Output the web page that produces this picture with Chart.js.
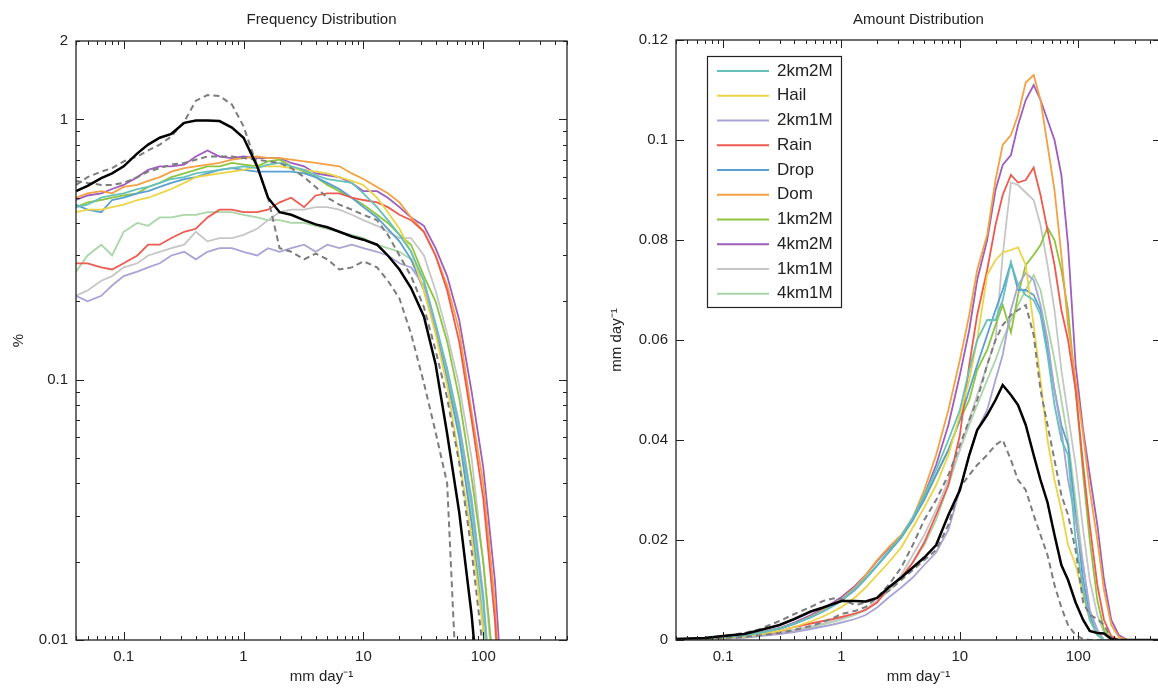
<!DOCTYPE html>
<html>
<head>
<meta charset="utf-8">
<title>Frequency and Amount Distribution</title>
<script src="https://cdn.jsdelivr.net/npm/chart.js"></script>
<style>
   body { margin: 0; width: 1158px; height: 694px; overflow: hidden; background: #fff; position: relative; }
   .panel { position: absolute; top: 0; }
   #freq-panel { left: 0; }
   #amount-panel { left: 590px; }
</style>
</head>
<body>
<div class="panel" id="freq-panel"><canvas id="freq-chart" width="600" height="694"></canvas></div>
<div class="panel" id="amount-panel"><canvas id="amount-chart" width="600" height="694"></canvas></div>

<script>
/*=======================================
 Data
========================================*/

// rain-rate bins (mm/day) for each panel
var freqX = [0.04, 0.05, 0.065, 0.08, 0.1, 0.13, 0.16, 0.2, 0.25, 0.32,
             0.4, 0.5, 0.63, 0.8, 1, 1.3, 1.6, 2, 2.5, 3.2,
             4, 5, 6.3, 8, 10, 13, 16, 20, 25, 32,
             40, 50, 63, 80, 100, 125, 160];
var amountX = [0.04, 0.07, 0.1, 0.15, 0.2, 0.3, 0.4, 0.55, 0.7, 0.85,
               1, 1.3, 1.6, 2, 2.5, 3.2, 4, 5, 6.3, 8,
               10, 12, 14, 17, 20, 23, 27, 31, 36, 42,
               48, 55, 63, 72, 82, 95, 110, 125, 145, 165,
               190, 220, 260, 500];

// tick labels
var xTickLabels = [0.1, 1, 10, 100];
var freqTickLabels = [0.01, 0.1, 1, 2];

// model runs (legend order) and their colours
var runNames = ['2km2M', 'Hail', '2km1M', 'Rain', 'Drop', 'Dom', '1km2M', '4km2M', '1km1M', '4km1M'];
var runColors = ['#66c1bb', '#ecd444', '#a9a4d6', '#ee5a4f', '#5a9fd1', '#f3a142', '#8cc540', '#9f5dbd', '#c6c6c6', '#a9d6a6'];

// frequency distribution (%) - observations
var freqObs = [0.53, 0.555, 0.595, 0.62, 0.66, 0.74, 0.8, 0.85, 0.88, 0.97,
               0.99, 0.99, 0.985, 0.93, 0.85, 0.66, 0.5, 0.44, 0.43, 0.41,
               0.395, 0.385, 0.37, 0.355, 0.345, 0.33, 0.3, 0.265, 0.225, 0.175,
               0.115, 0.062, 0.031, 0.0125, 0.004];
var freqObsDashA = [0.56, 0.6, 0.63, 0.65, 0.69, 0.72, 0.76, 0.8, 0.86, 0.98,
                    1.18, 1.24, 1.23, 1.14, 0.94, 0.66, 0.5, 0.32, 0.31, 0.29,
                    0.305, 0.29, 0.265, 0.27, 0.285, 0.27, 0.24, 0.205, 0.15, 0.097,
                    0.063, 0.04, 0.004];
var freqObsDashB = [0.58, 0.57, 0.56, 0.56, 0.57, 0.6, 0.63, 0.65, 0.67, 0.68,
                    0.7, 0.72, 0.72, 0.72, 0.71, 0.7, 0.69, 0.68, 0.65, 0.6,
                    0.55, 0.5, 0.47, 0.45, 0.43, 0.41, 0.36, 0.3, 0.25, 0.19,
                    0.13, 0.085, 0.048, 0.022, 0.009, 0.002];

// frequency distribution (%) - model runs
var freq2km2M = [0.46, 0.47, 0.5, 0.51, 0.52, 0.54, 0.55, 0.57, 0.59, 0.6,
                 0.62, 0.63, 0.64, 0.65, 0.66, 0.65, 0.67, 0.68, 0.66, 0.64,
                 0.61, 0.59, 0.58, 0.57, 0.52, 0.46, 0.41, 0.36, 0.31, 0.24,
                 0.165, 0.11, 0.065, 0.033, 0.014, 0.004];
var freqHail = [0.44, 0.45, 0.45, 0.46, 0.47, 0.49, 0.5, 0.52, 0.54, 0.57,
                0.6, 0.61, 0.62, 0.63, 0.64, 0.66, 0.66, 0.66, 0.65, 0.64,
                0.63, 0.62, 0.6, 0.58, 0.56, 0.5, 0.44, 0.38, 0.31, 0.22,
                0.15, 0.095, 0.05, 0.025, 0.011, 0.003];
var freq2km1M = [0.21, 0.2, 0.21, 0.23, 0.25, 0.26, 0.27, 0.28, 0.3, 0.31,
                 0.29, 0.31, 0.32, 0.32, 0.31, 0.3, 0.32, 0.31, 0.32, 0.33,
                 0.31, 0.33, 0.32, 0.33, 0.32, 0.31, 0.3, 0.28, 0.27, 0.23,
                 0.16, 0.11, 0.068, 0.035, 0.015, 0.004];
var freqRain = [0.28, 0.28, 0.27, 0.265, 0.28, 0.3, 0.33, 0.33, 0.35, 0.37,
                0.38, 0.42, 0.45, 0.45, 0.44, 0.44, 0.45, 0.48, 0.5, 0.46,
                0.51, 0.52, 0.52, 0.5, 0.49, 0.48, 0.46, 0.43, 0.41, 0.37,
                0.3, 0.22, 0.14, 0.07, 0.035, 0.012, 0.002];
var freqDrop = [0.47, 0.45, 0.44, 0.49, 0.5, 0.52, 0.53, 0.55, 0.57, 0.59,
                0.6, 0.62, 0.64, 0.65, 0.64, 0.63, 0.63, 0.63, 0.63, 0.62,
                0.6, 0.57, 0.54, 0.5, 0.46, 0.42, 0.38, 0.34, 0.29, 0.22,
                0.155, 0.1, 0.06, 0.028, 0.011, 0.003];
var freqDom = [0.5, 0.52, 0.53, 0.52, 0.55, 0.56, 0.58, 0.6, 0.63, 0.65,
               0.66, 0.67, 0.68, 0.7, 0.71, 0.72, 0.71, 0.71, 0.7, 0.69,
               0.68, 0.67, 0.66, 0.62, 0.59, 0.55, 0.52, 0.48, 0.42, 0.37,
               0.3, 0.23, 0.155, 0.075, 0.04, 0.014, 0.002];
var freq1km2M = [0.46, 0.48, 0.49, 0.5, 0.51, 0.52, 0.55, 0.57, 0.6, 0.62,
                 0.64, 0.66, 0.66, 0.68, 0.67, 0.66, 0.69, 0.7, 0.66, 0.63,
                 0.6, 0.56, 0.53, 0.5, 0.47, 0.43, 0.4, 0.36, 0.33, 0.25,
                 0.2, 0.14, 0.085, 0.042, 0.02, 0.007];
var freq4km2M = [0.49, 0.51, 0.52, 0.54, 0.56, 0.6, 0.64, 0.66, 0.66, 0.67,
                 0.72, 0.76, 0.72, 0.71, 0.72, 0.71, 0.71, 0.71, 0.68, 0.66,
                 0.62, 0.61, 0.6, 0.57, 0.53, 0.53, 0.5, 0.46, 0.42, 0.39,
                 0.32, 0.25, 0.17, 0.09, 0.046, 0.017, 0.003];
var freq1km1M = [0.21, 0.22, 0.24, 0.25, 0.27, 0.28, 0.3, 0.31, 0.32, 0.33,
                 0.37, 0.34, 0.35, 0.35, 0.36, 0.38, 0.41, 0.44, 0.45, 0.45,
                 0.46, 0.46, 0.45, 0.43, 0.41, 0.39, 0.37, 0.35, 0.35, 0.3,
                 0.22, 0.15, 0.095, 0.05, 0.02, 0.006];
var freq4km1M = [0.26, 0.3, 0.33, 0.3, 0.37, 0.4, 0.39, 0.42, 0.42, 0.43,
                 0.43, 0.44, 0.44, 0.44, 0.43, 0.42, 0.41, 0.41, 0.4, 0.4,
                 0.39, 0.38, 0.37, 0.36, 0.35, 0.33, 0.32, 0.31, 0.29, 0.24,
                 0.16, 0.105, 0.062, 0.03, 0.012, 0.003];

// amount distribution (mm/day) - observations
var amountObs = [0.0002, 0.0004, 0.0008, 0.0012, 0.0019, 0.003, 0.0042, 0.0057, 0.0065, 0.0072,
                 0.0078, 0.0078, 0.0077, 0.0084, 0.0105, 0.0125, 0.0145, 0.0165, 0.019, 0.025,
                 0.03, 0.037, 0.042, 0.045, 0.048, 0.051, 0.049, 0.047, 0.043, 0.037,
                 0.032, 0.0275, 0.021, 0.015, 0.012, 0.0075, 0.004, 0.0018, 0.0014, 0.0013,
                 0.0002, 0, 0, 0];
var amountObsDashA = [0.0002, 0.0004, 0.0008, 0.0014, 0.0021, 0.0038, 0.0052, 0.0066, 0.0078, 0.0083,
                      0.0082, 0.007, 0.0075, 0.0085, 0.0098, 0.012, 0.014, 0.016, 0.018, 0.023,
                      0.0305, 0.033, 0.035, 0.037, 0.039, 0.04, 0.036, 0.032, 0.03, 0.025,
                      0.021, 0.017, 0.011, 0.0065, 0.003, 0.001, 0.0002, 0, 0, 0,
                      0, 0, 0, 0];
var amountObsDashB = [0.0001, 0.0002, 0.0004, 0.0006, 0.0009, 0.0014, 0.002, 0.0028, 0.0036, 0.0044,
                      0.0052, 0.0058, 0.0066, 0.0085, 0.011, 0.0145, 0.019, 0.024, 0.028, 0.033,
                      0.039, 0.044, 0.048, 0.055, 0.06, 0.063, 0.065, 0.066, 0.067, 0.061,
                      0.05, 0.043, 0.036, 0.029, 0.025, 0.018, 0.0075, 0.005, 0.0042, 0.003,
                      0.0004, 0, 0, 0];

// amount distribution (mm/day) - model runs
var amount2km2M = [0.0001, 0.0003, 0.0005, 0.0009, 0.0013, 0.0023, 0.0033, 0.0046, 0.0058, 0.0069,
                   0.008, 0.0102, 0.0124, 0.015, 0.0178, 0.0208, 0.0245, 0.029, 0.034, 0.04,
                   0.046, 0.054, 0.06, 0.064, 0.064, 0.068, 0.0755, 0.071, 0.069, 0.068,
                   0.065, 0.057, 0.047, 0.04, 0.037, 0.02, 0.01, 0.004, 0.001, 0,
                   0, 0, 0, 0];
var amountHail = [0.0001, 0.0002, 0.0004, 0.0007, 0.0011, 0.0018, 0.0026, 0.0037, 0.0047, 0.0057,
                  0.0066, 0.0085, 0.0105, 0.013, 0.0155, 0.0185, 0.0225, 0.0265, 0.031, 0.037,
                  0.045, 0.052, 0.06, 0.073, 0.076, 0.0775, 0.078, 0.0785, 0.075, 0.063,
                  0.052, 0.04, 0.032, 0.026, 0.019, 0.015, 0.009, 0.004, 0.001, 0,
                  0, 0, 0, 0];
var amount2km1M = [0.0001, 0.0002, 0.0003, 0.0005, 0.0008, 0.0012, 0.0016, 0.0022, 0.0027, 0.0031,
                   0.0035, 0.0042, 0.005, 0.0065, 0.0085, 0.0105, 0.0125, 0.015, 0.0175, 0.022,
                   0.03, 0.037, 0.042, 0.046, 0.052, 0.057, 0.066, 0.071, 0.0734, 0.072,
                   0.067, 0.06, 0.05, 0.042, 0.032, 0.024, 0.015, 0.006, 0.002, 0,
                   0, 0, 0, 0];
var amountRain = [0.0001, 0.0002, 0.0003, 0.0006, 0.0009, 0.0017, 0.0026, 0.0033, 0.0038, 0.0042,
                  0.0046, 0.0053, 0.006, 0.0075, 0.0105, 0.0125, 0.0155, 0.0195, 0.025, 0.031,
                  0.041, 0.055, 0.065, 0.074, 0.083, 0.089, 0.093, 0.0915, 0.092, 0.0945,
                  0.089, 0.082, 0.075, 0.066, 0.06, 0.05, 0.035, 0.023, 0.011, 0.004,
                  0.0008, 0, 0, 0];
var amountDrop = [0.0001, 0.0003, 0.0005, 0.0009, 0.0013, 0.0022, 0.0032, 0.0045, 0.0057, 0.0068,
                  0.0079, 0.01, 0.0122, 0.0148, 0.0175, 0.0205, 0.024, 0.028, 0.033, 0.038,
                  0.044, 0.05, 0.055, 0.061, 0.066, 0.07, 0.0755, 0.07, 0.07, 0.069,
                  0.066, 0.058, 0.05, 0.043, 0.039, 0.025, 0.012, 0.005, 0.001, 0,
                  0, 0, 0, 0];
var amountDom = [0.0001, 0.0003, 0.0005, 0.0009, 0.0013, 0.0022, 0.0032, 0.0047, 0.006, 0.0071,
                 0.0082, 0.0105, 0.013, 0.016, 0.0185, 0.021, 0.0245, 0.03, 0.037, 0.046,
                 0.056, 0.065, 0.074, 0.081, 0.092, 0.099, 0.101, 0.105, 0.1115, 0.113,
                 0.108, 0.099, 0.09, 0.077, 0.063, 0.052, 0.041, 0.03, 0.02, 0.01,
                 0.003, 0.0006, 0, 0];
var amount1km2M = [0.0001, 0.0003, 0.0005, 0.0009, 0.0013, 0.0023, 0.0033, 0.0046, 0.0058, 0.0069,
                   0.008, 0.0102, 0.0124, 0.015, 0.0175, 0.0205, 0.024, 0.0285, 0.033, 0.038,
                   0.044, 0.048, 0.054, 0.058, 0.063, 0.067, 0.0615, 0.069, 0.075, 0.077,
                   0.079, 0.0825, 0.08, 0.074, 0.066, 0.05, 0.033, 0.02, 0.008, 0.002,
                   0.0003, 0, 0, 0];
var amount4km2M = [0.0001, 0.0003, 0.0005, 0.0009, 0.0014, 0.0024, 0.0035, 0.005, 0.0063, 0.0075,
                   0.0086, 0.0108, 0.013, 0.0158, 0.0183, 0.0207, 0.024, 0.029, 0.035, 0.043,
                   0.053, 0.062, 0.072, 0.08, 0.09, 0.095, 0.097, 0.103, 0.108, 0.111,
                   0.108, 0.104, 0.1, 0.093, 0.079, 0.055, 0.042, 0.033, 0.023, 0.012,
                   0.004, 0.001, 0, 0];
var amount1km1M = [0.0001, 0.0002, 0.0003, 0.0005, 0.0008, 0.0014, 0.002, 0.0027, 0.0033, 0.0038,
                   0.0043, 0.0052, 0.0062, 0.0078, 0.0098, 0.013, 0.017, 0.021, 0.026, 0.032,
                   0.038, 0.044, 0.049, 0.055, 0.06, 0.077, 0.0915, 0.091, 0.0895, 0.088,
                   0.083, 0.075, 0.066, 0.054, 0.045, 0.035, 0.022, 0.012, 0.005, 0.0015,
                   0.0003, 0, 0, 0];
var amount4km1M = [0.0001, 0.0002, 0.0003, 0.0005, 0.0008, 0.0013, 0.0018, 0.0025, 0.0031, 0.0036,
                   0.0041, 0.005, 0.006, 0.0078, 0.0098, 0.0125, 0.0155, 0.019, 0.024, 0.031,
                   0.038, 0.043, 0.047, 0.052, 0.056, 0.06, 0.064, 0.067, 0.07, 0.073,
                   0.07, 0.063, 0.056, 0.048, 0.04, 0.028, 0.015, 0.006, 0.002, 0,
                   0, 0, 0, 0];

var freqRuns = [freq2km2M, freqHail, freq2km1M, freqRain, freqDrop, freqDom, freq1km2M, freq4km2M, freq1km1M, freq4km1M];
var amountRuns = [amount2km2M, amountHail, amount2km1M, amountRain, amountDrop, amountDom, amount1km2M, amount4km2M, amount1km1M, amount4km1M];


/*=======================================
 Helpers
========================================*/

Chart.defaults.font.family = '"Liberation Sans", Arial, sans-serif';
Chart.defaults.color = '#222';

// pair up bins and values
function points(xs, ys) {
   return ys.map(function (y, i) { return { x: xs[i], y: y }; });
}

// only label the values in the list
function labelOnly(list) {
   return function (value) {
      var hit = list.find(function (l) { return Math.abs(value - l) < l * 1e-6; });
      return hit === undefined ? '' : String(hit);
   };
}

// black obs first so it sits on top, then the two dashed obs, then the runs
function buildDatasets(xs, obs, dashA, dashB, runs) {
   var sets = [
      { data: points(xs, obs), borderColor: '#000', borderWidth: 2.5 },
      { data: points(xs, dashA), borderColor: '#7d7d7d', borderWidth: 2, borderDash: [6, 4] },
      { data: points(xs, dashB), borderColor: '#7d7d7d', borderWidth: 2, borderDash: [6, 4] }
   ];
   runs.forEach(function (ys, i) {
      sets.push({ label: runNames[i], data: points(xs, ys), borderColor: runColors[i], borderWidth: 1.8 });
   });
   return sets;
}

// minor + major positions of a log axis (1..9 x 10^n)
function logTicks(scale) {
   var out = [];
   var e0 = Math.floor(Math.log10(scale.min)), e1 = Math.ceil(Math.log10(scale.max));
   for (var e = e0; e <= e1; e++) {
      for (var m = 1; m < 10; m++) {
         var v = m * Math.pow(10, e);
         if (v >= scale.min * 0.999 && v <= scale.max * 1.001) out.push({ v: v, major: m === 1 });
      }
   }
   return out;
}

function tickList(scale) {
   if (scale.type === 'logarithmic') return logTicks(scale);
   return scale.ticks.map(function (t) { return { v: t.value, major: true }; });
}

// box round the plot with inward ticks on all four sides
var frameTicks = {
   id: 'frameTicks',
   afterDatasetsDraw: function (chart) {
      var ctx = chart.ctx, a = chart.chartArea, x = chart.scales.x, y = chart.scales.y;
      ctx.save();
      ctx.strokeStyle = '#222';
      ctx.lineWidth = 1;
      ctx.beginPath();
      tickList(x).forEach(function (t) {
         var px = Math.round(x.getPixelForValue(t.v)) + 0.5, len = t.major ? 8 : 4;
         ctx.moveTo(px, a.bottom); ctx.lineTo(px, a.bottom - len);
         ctx.moveTo(px, a.top); ctx.lineTo(px, a.top + len);
      });
      tickList(y).forEach(function (t) {
         var py = Math.round(y.getPixelForValue(t.v)) + 0.5, len = t.major ? 8 : 4;
         ctx.moveTo(a.left, py); ctx.lineTo(a.left + len, py);
         ctx.moveTo(a.right, py); ctx.lineTo(a.right - len, py);
      });
      ctx.stroke();
      ctx.lineWidth = 1.3;
      ctx.strokeRect(a.left, a.top, a.right - a.left, a.bottom - a.top);
      ctx.restore();
   }
};

// title centred over the plot box
function panelTitle(text) {
   return {
      id: 'panelTitle',
      afterDraw: function (chart) {
         var ctx = chart.ctx, a = chart.chartArea;
         ctx.save();
         ctx.font = '15px "Liberation Sans", Arial, sans-serif';
         ctx.fillStyle = '#222';
         ctx.textAlign = 'center';
         ctx.textBaseline = 'middle';
         ctx.fillText(text, (a.left + a.right) / 2, 20);
         ctx.restore();
      }
   };
}

// legend box inside the amount panel (runs only)
var insideLegend = {
   id: 'insideLegend',
   afterDraw: function (chart) {
      var ctx = chart.ctx, a = chart.chartArea;
      var left = a.left + 31, top = a.top + 16, w = 134, h = 251;
      ctx.save();
      ctx.fillStyle = '#fff';
      ctx.fillRect(left, top, w, h);
      ctx.strokeStyle = '#222';
      ctx.lineWidth = 1.2;
      ctx.strokeRect(left + 0.5, top + 0.5, w, h);
      ctx.font = '17px "Liberation Sans", Arial, sans-serif';
      ctx.textBaseline = 'middle';
      runNames.forEach(function (name, i) {
         var ly = top + 15 + i * 24.75;
         ctx.strokeStyle = runColors[i];
         ctx.lineWidth = 2;
         ctx.beginPath();
         ctx.moveTo(left + 10, ly);
         ctx.lineTo(left + 62, ly);
         ctx.stroke();
         ctx.fillStyle = '#222';
         ctx.fillText(name, left + 70, ly);
      });
      ctx.restore();
   }
};

function xAxis() {
   return {
      type: 'logarithmic',
      min: 0.04,
      max: 500,
      grid: { display: false, drawTicks: false },
      border: { display: false },
      ticks: { autoSkip: false, maxRotation: 0, padding: 8, font: { size: 15 }, callback: labelOnly(xTickLabels) },
      title: { display: true, text: 'mm day\u207B\u00B9', font: { size: 15 }, padding: { top: 0, bottom: 4 } },
      afterFit: function (s) { s.height = 50; }
   };
}

var commonOptions = {
   responsive: false,
   animation: false,
   events: [],
   elements: { point: { radius: 0 }, line: { tension: 0, fill: false } },
   plugins: { legend: { display: false }, tooltip: { enabled: false } }
};


/*=======================================
 Frequency Distribution (log-log)
========================================*/

var freqChart = new Chart(document.getElementById('freq-chart'), {
   type: 'line',
   data: { datasets: buildDatasets(freqX, freqObs, freqObsDashA, freqObsDashB, freqRuns) },
   options: Object.assign({}, commonOptions, {
      layout: { padding: { left: 6, right: 33, top: 41, bottom: 4 } },
      scales: {
         x: xAxis(),
         y: {
            type: 'logarithmic',
            min: 0.01,
            max: 2,
            grid: { display: false, drawTicks: false },
            border: { display: false },
            ticks: { autoSkip: false, padding: 8, font: { size: 15 }, callback: labelOnly(freqTickLabels) },
            title: { display: true, text: '%', font: { size: 15 } },
            afterFit: function (s) { s.width = 70; }
         }
      }
   }),
   plugins: [frameTicks, panelTitle('Frequency Distribution')]
});


/*=======================================
 Amount Distribution (log x, linear y)
========================================*/

var amountChart = new Chart(document.getElementById('amount-chart'), {
   type: 'line',
   data: { datasets: buildDatasets(amountX, amountObs, amountObsDashA, amountObsDashB, amountRuns) },
   options: Object.assign({}, commonOptions, {
      layout: { padding: { left: 14, right: 29, top: 40, bottom: 4 } },
      scales: {
         x: xAxis(),
         y: {
            type: 'linear',
            min: 0,
            max: 0.12,
            grid: { display: false, drawTicks: false },
            border: { display: false },
            ticks: {
               stepSize: 0.02,
               padding: 8,
               font: { size: 15 },
               callback: function (v) { return String(Number(v.toFixed(2))); }
            },
            title: { display: true, text: 'mm day\u207B\u00B9', font: { size: 15 } },
            afterFit: function (s) { s.width = 72; }
         }
      }
   }),
   plugins: [frameTicks, panelTitle('Amount Distribution'), insideLegend]
});
</script>
</body>
</html>
